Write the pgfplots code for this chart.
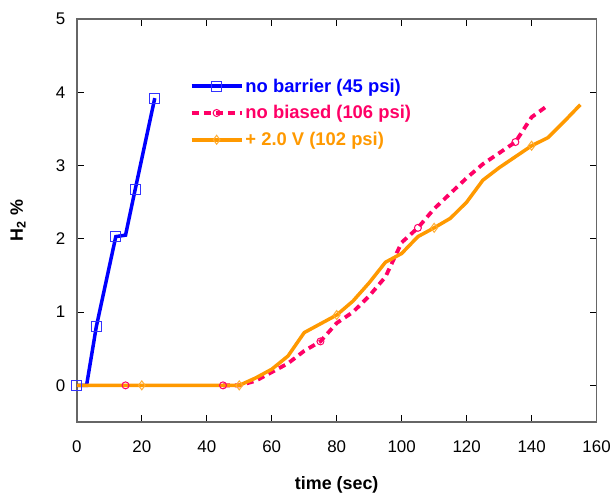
\documentclass[border=0pt]{standalone}
\usepackage{fontspec}
\setmainfont{Liberation Sans}
\usepackage{pgfplots}
\pgfplotsset{compat=1.18}
\definecolor{nbblue}{RGB}{0,0,255}
\definecolor{nbpink}{RGB}{255,0,102}
\definecolor{nborange}{RGB}{255,153,0}
\begin{document}
\begin{tikzpicture}
\begin{axis}[
  scale only axis, width=521bp, height=404bp,
  xmin=0, xmax=160, ymin=-0.5, ymax=5,
  xtick={0,20,...,160}, ytick={0,...,5},
  tick align=inside, major tick length=7bp,
  every tick/.style={black, line width=0.8bp},
  axis line style={draw=black!60, line width=1.4bp},
  /pgf/number format/assume math mode=true,
  tick label style={font=\fontsize{17}{20}\selectfont},
  xticklabel style={yshift=-15bp},
  yticklabel style={xshift=-8bp},
  xlabel={time (sec)},
  ylabel={H\textsubscript{2} \%},
  xlabel style={at={(axis description cs:0.5,-0.155)}, anchor=center, font=\bfseries\fontsize{18}{20}\selectfont},
  ylabel style={at={(axis description cs:-0.113,0.5)}, anchor=center, font=\bfseries\fontsize{18}{20}\selectfont},
  legend cell align=left,
  legend style={at={(rel axis cs:0.217,0.857)}, anchor=north west, draw=none, fill=none,
    inner sep=0pt, row sep=8bp, font=\bfseries\fontsize{18.5}{20}\selectfont,
    nodes={inner sep=2bp}},
  legend image code/.code={\draw[#1, mark indices={2}] plot coordinates {(0bp,0bp) (25bp,0bp) (50bp,0bp)};},
]
\addplot[nbblue, line width=3.5bp, mark=square, mark size=5bp,
  mark options={draw=nbblue!80, line width=0.9bp, fill=none},
  mark indices={1,3,4,6,7}]
  coordinates {(0,0) (3,0) (6,0.8) (12,2.03) (15,2.05) (18,2.68) (24,3.92)};
\addlegendentry{\textcolor{nbblue}{no barrier (45 psi)}}
% the flat start (0 to 45 s) lies under the orange line
\addplot[nbpink, line width=3.8bp, dash pattern=on 7bp off 5bp, mark=o, mark size=3.5bp,
  mark options={solid, draw=nbpink, line width=1bp, fill=white},
  mark indices={7,13,19}]
  coordinates {(45,0) (50,0) (55,0.06) (60,0.18) (65,0.30) (70,0.47)
    (75,0.6) (80,0.85) (85,1.0) (90,1.22) (95,1.48) (100,1.95) (105,2.15) (110,2.41)
    (115,2.62) (120,2.83) (125,3.02) (130,3.17) (135,3.32) (140,3.66) (145,3.82)};
\addlegendentry{\textcolor{nbpink}{no biased (106 psi)}}
\addplot[nborange, line width=3.5bp, mark=diamond, mark size=4.5bp,
  mark options={draw=nborange!80, line width=1bp, fill=white},
  mark indices={2,3,9,15,21}]
  coordinates {(0,0) (20,0) (50,0) (55,0.1) (60,0.22) (65,0.4) (70,0.72) (75,0.84)
    (80,0.96) (85,1.15) (90,1.4) (95,1.68) (100,1.8) (105,2.03) (110,2.15) (115,2.28)
    (120,2.5) (125,2.8) (130,2.97) (135,3.12) (140,3.27) (145,3.38) (150,3.6) (155,3.83)};
\addlegendentry{\textcolor{nborange}{+ 2.0 V (102 psi)}}
% markers that sit on the orange line are drawn again on top of it
\addplot[forget plot, only marks, mark=o, mark size=3.5bp,
  mark options={draw=nbpink, line width=1bp, fill=none}]
  coordinates {(15,0) (45,0)};
\addplot[forget plot, only marks, mark=square, mark size=5bp,
  mark options={draw=nbblue!80, line width=0.9bp, fill=none}]
  coordinates {(0,0)};
\end{axis}
\path (current axis.south west) ++(-77bp,-68bp) rectangle ++(614bp,491bp);
\end{tikzpicture}
\end{document}
